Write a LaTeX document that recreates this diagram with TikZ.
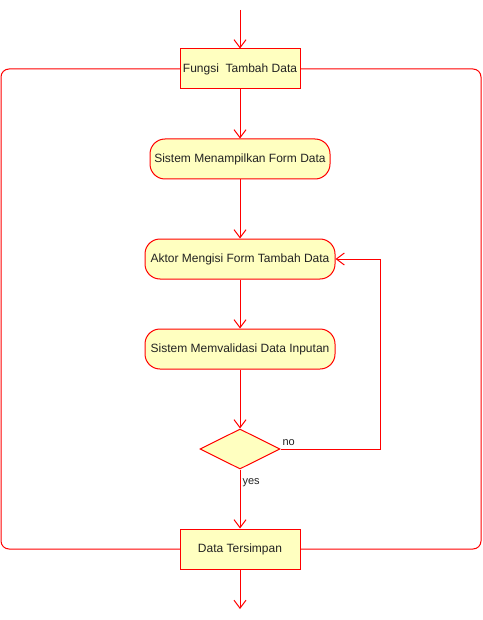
\documentclass[tikz,border=0pt]{standalone}
\usepackage{fontspec}
\setmainfont{Liberation Sans}
\usetikzlibrary{arrows.meta,shapes.geometric}
\definecolor{fillY}{HTML}{FFFFC0}
\definecolor{strokeR}{HTML}{FF0000}
\definecolor{txt}{HTML}{222222}
\begin{document}
\begin{tikzpicture}[x=1pt,y=-1pt,
  line width=1pt,
  box/.style={draw=strokeR,fill=fillY,minimum width=120pt,minimum height=40pt,inner sep=0pt,font=\fontsize{12}{14}\selectfont,text=txt},
  act/.style={draw=strokeR,fill=fillY,rounded corners=15pt,minimum height=40pt,inner sep=0pt,font=\fontsize{12}{14}\selectfont,text=txt},
  dec/.style={draw=strokeR,fill=fillY,shape=diamond,aspect=2,minimum width=80pt,minimum height=40pt,inner sep=0pt},
  flow/.style={draw=strokeR,-{Straight Barb[length=8pt,width=12pt]}},
  lbl/.style={font=\fontsize{11}{13}\selectfont,text=txt,inner sep=0pt}]
\useasboundingbox (0,0) rectangle (482,620);
% frame
\draw[strokeR,rounded corners=8pt] (1,69) rectangle (481,549);
\coordinate (start) at (240,10);
\coordinate (finish) at (240,609);
\node[box] (fungsi) at (240,69) {Fungsi\ \ Tambah Data};
\node[act,minimum width=180pt] (tampil) at (240,159) {Sistem Menampilkan Form Data};
\node[act,minimum width=190pt] (isi) at (240,259) {Aktor Mengisi Form Tambah Data};
\node[act,minimum width=190pt] (valid) at (240,349) {Sistem Memvalidasi Data Inputan};
\node[dec] (cek) at (240,449) {};
\node[box] (simpan) at (240,549) {Data Tersimpan};
\draw[flow] (start) -- (fungsi);
\draw[flow] (fungsi) -- (tampil);
\draw[flow] (tampil) -- (isi);
\draw[flow] (isi) -- (valid);
\draw[flow] (valid) -- (cek);
\draw[flow] (cek.east) -- (380,449) |- (isi.east);
\draw[flow] (cek) -- (simpan);
\draw[flow] (simpan) -- (finish);
\node[lbl,anchor=south west] (no) at (282,446) {no};
\node[lbl,anchor=north west] (yes) at (242,478) {yes};
\end{tikzpicture}
\end{document}
